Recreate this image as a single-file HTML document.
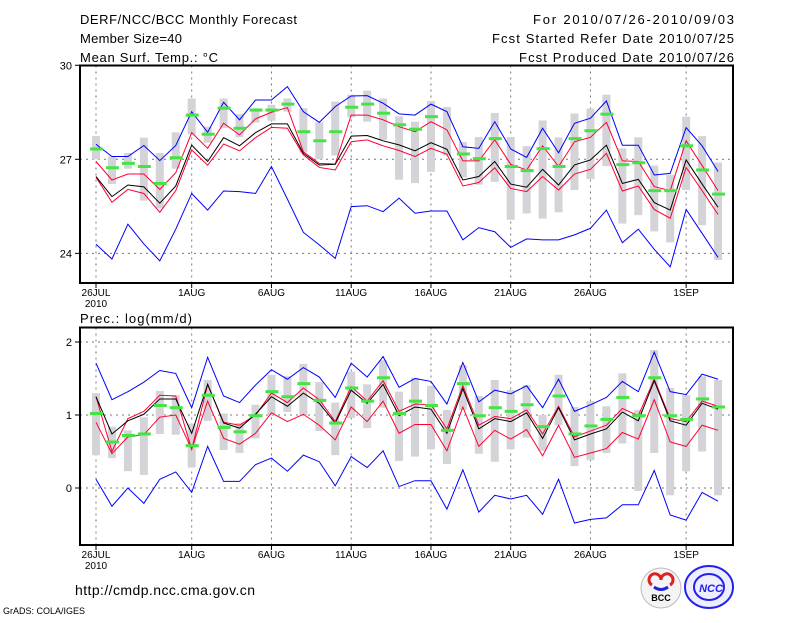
<!DOCTYPE html>
<html><head><meta charset="utf-8"><style>
body{margin:0;background:#fff;width:800px;height:618px;overflow:hidden}
svg text{font-family:"Liberation Sans",sans-serif;fill:#000}
</style></head><body>
<svg id="c" width="800" height="618" xmlns="http://www.w3.org/2000/svg">
<text x="80" y="24" font-size="13" textLength="217" lengthAdjust="spacing">DERF/NCC/BCC Monthly Forecast</text>
<text x="80" y="43" font-size="13" textLength="102" lengthAdjust="spacing">Member Size=40</text>
<text x="80" y="62" font-size="13" textLength="138" lengthAdjust="spacing">Mean Surf. Temp.: °C</text>
<text x="533" y="24" font-size="13" textLength="201" lengthAdjust="spacing">For 2010/07/26-2010/09/03</text>
<text x="492" y="43" font-size="13" textLength="242" lengthAdjust="spacing">Fcst Started Refer Date 2010/07/25</text>
<text x="519" y="62" font-size="13" textLength="215" lengthAdjust="spacing">Fcst Produced Date 2010/07/26</text>
<text x="80" y="323" font-size="13" textLength="112" lengthAdjust="spacing">Prec.: log(mm/d)</text>
<text x="75" y="595" font-size="14" textLength="180" lengthAdjust="spacing">http://cmdp.ncc.cma.gov.cn</text>
<text x="3" y="614" font-size="9">GrADS: COLA/IGES</text>
<g>
<circle cx="661" cy="588" r="20" fill="#f4f4f4" stroke="#bbb"/>
<path d="M652 585 a6 6 0 1 1 9 -5 a6 6 0 1 1 9 5" fill="none" stroke="#d22" stroke-width="3"/>
<path d="M654 587 q7 5 14 0" fill="none" stroke="#22d" stroke-width="3"/>
<text x="661" y="601" font-size="9" font-weight="bold" text-anchor="middle">BCC</text>
</g>
<g>
<ellipse cx="709" cy="587" rx="24" ry="21" fill="#eef" stroke="#22e" stroke-width="2"/>
<ellipse cx="709" cy="587" rx="15" ry="13" fill="none" stroke="#22e" stroke-width="2"/>
<text x="711" y="592" font-size="11" font-weight="bold" font-style="italic" text-anchor="middle" style="fill:#22e">NCC</text>
</g>
</svg>
<script>
const days=[0,6,11,16,21,26,31,37];
const dayLabels=['26JUL','1AUG','6AUG','11AUG','16AUG','21AUG','26AUG','1SEP'];
const tMax=[27.48,27.09,27.09,27.44,26.96,27.44,28.52,27.86,28.82,28.26,28.89,28.89,29.32,28.52,28.18,28.68,29.02,29.03,28.79,28.45,28.41,28.76,28.52,27.4,27.35,28.2,27.33,27.06,27.99,27.21,28.15,28.31,28.86,27.45,27.45,26.5,26.55,28.01,27.43,26.61];
const tRedUp=[26.93,26.34,26.53,26.53,26.04,26.57,27.85,27.35,28.15,27.78,28.29,28.5,28.65,27.24,26.87,26.85,28.41,28.41,28.26,28.04,27.88,28.2,27.94,26.95,26.95,27.62,26.84,26.66,27.43,26.77,27.56,27.7,28.18,26.95,26.93,26.13,26.0,27.59,26.8,26.0];
const tMean=[26.45,25.81,26.18,26.12,25.6,26.15,27.45,26.93,27.69,27.43,27.85,28.13,28.13,27.19,26.82,26.84,27.74,27.76,27.59,27.46,27.27,27.53,27.32,26.34,26.45,26.93,26.21,26.11,26.68,26.18,26.82,26.98,27.45,26.23,26.36,25.62,25.38,26.98,26.21,25.47];
const tRedLo=[26.43,25.63,26.04,25.91,25.31,26.0,27.3,26.81,27.49,27.27,27.69,28.02,27.99,27.14,26.74,26.66,27.56,27.62,27.43,27.28,27.09,27.35,27.16,26.15,26.26,26.73,26.07,25.97,26.45,26.02,26.53,26.68,27.19,25.99,26.15,25.4,25.12,26.74,26.0,25.24];
const tMin=[24.29,23.82,24.93,24.3,23.76,24.77,25.91,25.38,25.99,25.97,25.91,26.77,25.73,24.67,24.27,23.84,25.49,25.52,25.33,25.76,25.28,25.35,25.35,24.43,24.82,24.69,24.19,24.46,24.43,24.43,24.59,24.8,25.38,24.34,24.77,24.13,23.57,25.4,24.64,23.87];
const tObs=[27.33,26.73,26.87,26.77,26.23,27.05,28.41,27.8,28.63,27.99,28.57,28.57,28.76,27.88,27.59,27.88,28.66,28.76,28.47,28.1,27.96,28.36,null,27.17,27.02,27.66,26.77,26.64,27.34,26.77,27.66,27.91,28.44,26.83,26.89,26.0,26.0,27.43,26.66,25.89];
const tBarTop=[27.74,27.09,27.2,27.69,27.2,27.86,28.94,28.04,28.94,28.44,28.63,28.74,28.94,28.63,28.18,28.84,29.06,29.19,28.94,28.37,28.2,28.86,28.67,27.55,27.71,28.48,27.71,27.42,28.24,27.7,28.46,28.62,29.06,27.35,27.7,26.8,26.51,28.36,27.74,26.9];
const tBarBot=[27.0,26.21,26.7,25.68,25.44,26.7,27.79,27.53,28.0,27.71,28.17,28.23,28.52,27.22,27.0,27.12,28.34,28.2,27.62,26.35,26.24,26.6,27.12,26.42,26.19,26.28,25.07,25.27,25.11,25.31,26.02,26.37,26.78,24.95,25.22,24.7,24.35,26.02,24.9,23.79];
const pMax=[1.71,1.21,1.32,1.45,1.61,1.57,1.1,1.79,1.26,1.17,1.41,1.62,1.49,1.65,1.52,1.24,1.71,1.52,1.8,1.38,1.5,1.46,1.15,1.72,1.18,1.34,1.29,1.4,1.1,1.49,1.05,1.14,1.24,1.46,1.32,1.86,1.32,1.28,1.56,1.49];
const pRedUp=[1.25,0.5,0.95,1.05,1.27,1.26,0.53,1.42,0.9,0.86,1.0,1.3,1.17,1.37,1.21,0.91,1.39,1.19,1.47,1.05,1.15,1.14,0.81,1.4,0.86,0.98,0.95,1.07,0.74,1.12,0.7,0.78,0.86,1.09,0.99,1.49,0.95,0.91,1.19,1.12];
const pMean=[1.25,0.74,0.92,1.01,1.22,1.22,0.75,1.42,0.89,0.82,1.01,1.25,1.12,1.3,1.16,0.89,1.34,1.16,1.42,0.99,1.11,1.08,0.75,1.36,0.81,0.95,0.91,1.03,0.68,1.1,0.66,0.74,0.81,1.04,0.92,1.47,0.92,0.86,1.16,1.08];
const pRedLo=[0.9,0.47,0.7,0.73,0.97,1.0,0.53,1.19,0.68,0.6,0.75,1.03,0.91,1.01,0.86,0.66,1.11,0.91,1.19,0.75,0.87,0.87,0.51,1.11,0.57,0.79,0.67,0.8,0.44,0.86,0.42,0.48,0.54,0.76,0.67,1.21,0.63,0.57,0.86,0.79];
const pMin=[0.12,-0.25,0.0,-0.21,0.12,0.22,-0.06,0.57,0.09,0.09,0.32,0.41,0.23,0.45,0.36,0.03,0.43,0.28,0.51,0.02,0.1,0.1,-0.29,0.25,-0.33,-0.1,-0.15,-0.1,-0.36,0.12,-0.48,-0.43,-0.41,-0.23,-0.23,0.24,-0.37,-0.44,-0.06,-0.18];
const pObs=[1.02,0.63,0.72,0.74,1.13,1.1,0.58,1.27,0.83,0.77,0.99,1.32,1.25,1.43,1.2,0.89,1.37,1.19,1.51,1.02,1.19,1.13,0.79,1.43,0.99,1.1,1.05,1.14,0.84,1.26,0.74,0.85,0.94,1.24,0.99,1.51,0.99,0.94,1.22,1.11];
const pBarTop=[1.3,0.84,0.79,0.97,1.33,1.27,0.88,1.48,1.02,0.89,1.14,1.55,1.53,1.7,1.45,1.17,1.59,1.42,1.75,1.32,1.51,1.4,1.07,1.68,1.26,1.48,1.34,1.41,1.0,1.55,1.11,1.19,1.12,1.57,1.07,1.89,1.37,1.27,1.53,1.48];
const pBarBot=[0.45,0.41,0.23,0.18,0.74,0.73,0.28,0.92,0.52,0.48,0.68,1.0,1.04,1.0,0.78,0.45,0.96,0.82,1.1,0.37,0.43,0.53,0.33,1.07,0.47,0.36,0.53,0.69,0.51,0.86,0.3,0.38,0.48,0.61,-0.04,0.48,-0.1,0.23,0.5,-0.1];

const NS='http://www.w3.org/2000/svg';
const svg=document.getElementById('c');
const X0=80,X1=733;
const xS=d=>96+d*15.95;
function mk(tag,attrs,parent){const e=document.createElementNS(NS,tag);for(const k in attrs)e.setAttribute(k,attrs[k]);(parent||svg).appendChild(e);return e;}

function panel(name,top,bot,yv,yTicks,gridVals,series){
  const g=mk('g',{});
  
  
  gridVals.forEach(v=>{
    const l=mk('line',{x1:X0,x2:X1,y1:yv(v),y2:yv(v),stroke:'#777','stroke-dasharray':'2,4','stroke-width':1},g);
    
    
  });
  days.forEach((d,i)=>{
    const x=xS(d);
    const l=mk('line',{x1:x,x2:x,y1:top,y2:bot,stroke:'#777','stroke-dasharray':'2,4','stroke-width':1},g);
    
    
    const tk=mk('line',{x1:x,x2:x,y1:bot,y2:bot+5,stroke:'#000'},g);
    
    
    const t=mk('text',{x:x,y:bot+13,'font-size':10,'text-anchor':'middle'},g);
    t.textContent=dayLabels[i];
    
    
  });
  const yr=mk('text',{x:xS(0),y:bot+24,'font-size':10,'text-anchor':'middle'},g);
  yr.textContent='2010';
  
  
  yTicks.forEach(v=>{
    const tk=mk('line',{x1:X0-5,x2:X0,y1:yv(v),y2:yv(v),stroke:'#000'},g);
    
    
    const t=mk('text',{x:X0-8,y:yv(v)+4,'font-size':11,'text-anchor':'end'},g);
    t.textContent=String(v);
    
    
  });
  series.barTop.forEach((v,i)=>{
    const a=yv(v),b=yv(series.barBot[i]);
    const r=mk('rect',{x:xS(i)-4,y:a,width:8,height:b-a,fill:'#d3d3d8'},g);
    
    
  });
  const lines=[[series.max,'#0000ff','max-line'],[series.min,'#0000ff','min-line'],[series.up,'#ff0033','upper-line'],[series.lo,'#ff0033','lower-line'],[series.mean,'#000','mean-line']];
  lines.forEach(([arr,col,nm])=>{
    const p=mk('polyline',{points:arr.map((v,i)=>xS(i)+','+yv(v)).join(' '),fill:'none',stroke:col,'stroke-width':1},g);
    
    
  });
  series.obs.forEach((v,i)=>{
    if(v===null)return;
    const r=mk('rect',{x:xS(i)-6,y:yv(v)-1.5,width:13,height:3,fill:'#44e444'},g);
    
    
  });
  const bx=mk('rect',{x:X0,y:top,width:X1-X0,height:bot-top,fill:'none',stroke:'#000','stroke-width':2},g);
  
  
}
const yT=v=>159.3-(v-27)*31.35;
const yP=v=>415-(v-1)*73;
panel('temperature-panel',65.5,283,yT,[24,27,30],[24,27],{max:tMax,min:tMin,up:tRedUp,lo:tRedLo,mean:tMean,obs:tObs,barTop:tBarTop,barBot:tBarBot});
panel('precip-panel',327.5,545,yP,[0,1,2],[0,1,2],{max:pMax,min:pMin,up:pRedUp,lo:pRedLo,mean:pMean,obs:pObs,barTop:pBarTop,barBot:pBarBot});
</script>
</body></html>
